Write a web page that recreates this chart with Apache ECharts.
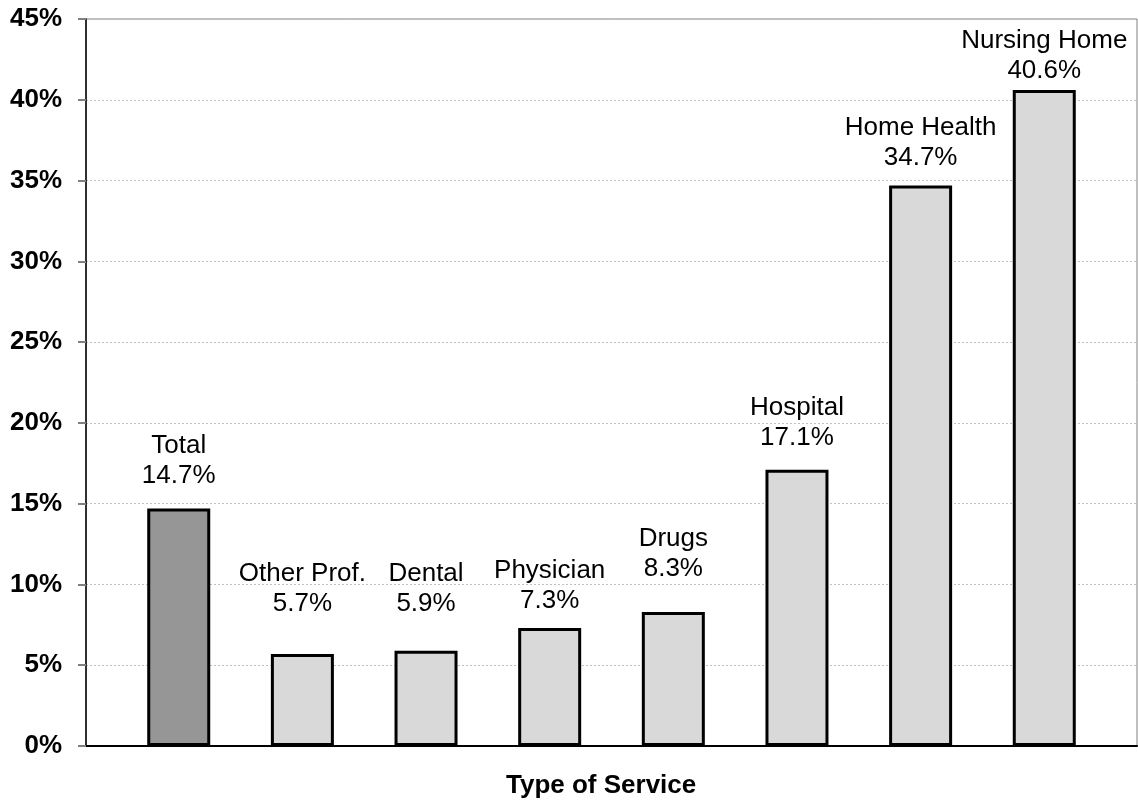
<!DOCTYPE html>
<html>
<head>
<meta charset="utf-8">
<script src="https://cdn.jsdelivr.net/npm/echarts@6/dist/echarts.min.js"></script>
<style>
html,body{margin:0;padding:0;background:#fff;}
#chart{width:1138px;height:802px;}
</style>
</head>
<body>
<div id="chart"></div>
<script>
// ---- data ----
const categories = ['Total', 'Other Prof.', 'Dental', 'Physician', 'Drugs', 'Hospital', 'Home Health', 'Nursing Home'];
const values = [14.7, 5.7, 5.9, 7.3, 8.3, 17.1, 34.7, 40.6];
const yTicks = [0, 5, 10, 15, 20, 25, 30, 35, 40, 45];
const axisTitle = 'Type of Service';

// ---- styles (kept apart from data) ----
const barColors = ['#969696', '#d9d9d9', '#d9d9d9', '#d9d9d9', '#d9d9d9', '#d9d9d9', '#d9d9d9', '#d9d9d9'];
const labelDistances = [18, 35, 32, 12, 28, 17, 13, 4];
const FONT = '"Liberation Sans", Arial, Helvetica, sans-serif';

const seriesData = values.map((v, i) => ({
  value: [i, v],
  itemStyle: { color: barColors[i] },
  label: { distance: labelDistances[i] }
}));

const chart = echarts.init(document.getElementById('chart'), null, { renderer: 'canvas' });
chart.setOption({
  animation: false,
  backgroundColor: '#ffffff',
  title: {
    text: axisTitle,
    left: 506,
    top: 771,
    padding: 0,
    textStyle: { fontFamily: FONT, fontSize: 26, fontWeight: 'bold', color: '#000', lineHeight: 30 }
  },
  grid: {
    left: 86, right: 1, top: 19, bottom: 56,
    show: true, borderColor: '#808080', borderWidth: 1, backgroundColor: 'transparent'
  },
  xAxis: {
    type: 'value',
    min: -0.75,
    max: 7.75,
    axisLine: { show: true, onZero: false, lineStyle: { color: '#000', width: 2 } },
    axisTick: { show: false },
    axisLabel: { show: false },
    splitLine: { show: false }
  },
  yAxis: {
    type: 'value',
    min: yTicks[0],
    max: yTicks[yTicks.length - 1],
    interval: yTicks[1] - yTicks[0],
    axisLine: { show: true, onZero: false, lineStyle: { color: '#000', width: 1.5 } },
    axisTick: { show: true, inside: false, length: 8, lineStyle: { color: '#808080', width: 2 } },
    axisLabel: {
      margin: 24,
      formatter: '{value}%',
      fontFamily: FONT, fontSize: 26, fontWeight: 'bold', color: '#000',
      padding: [3, 0, 0, 0]
    },
    splitLine: { show: true, lineStyle: { color: '#c0c0c0', type: [2, 2], width: 1 } }
  },
  series: [{
    type: 'bar',
    barWidth: 63,
    data: seriesData,
    itemStyle: { borderColor: '#000', borderWidth: 3 },
    label: {
      show: true,
      position: 'top',
      fontFamily: FONT,
      fontSize: 26,
      lineHeight: 30,
      color: '#000',
      formatter: p => categories[p.dataIndex] + '\n' + values[p.dataIndex].toFixed(1) + '%'
    }
  }]
});
</script>
</body>
</html>
